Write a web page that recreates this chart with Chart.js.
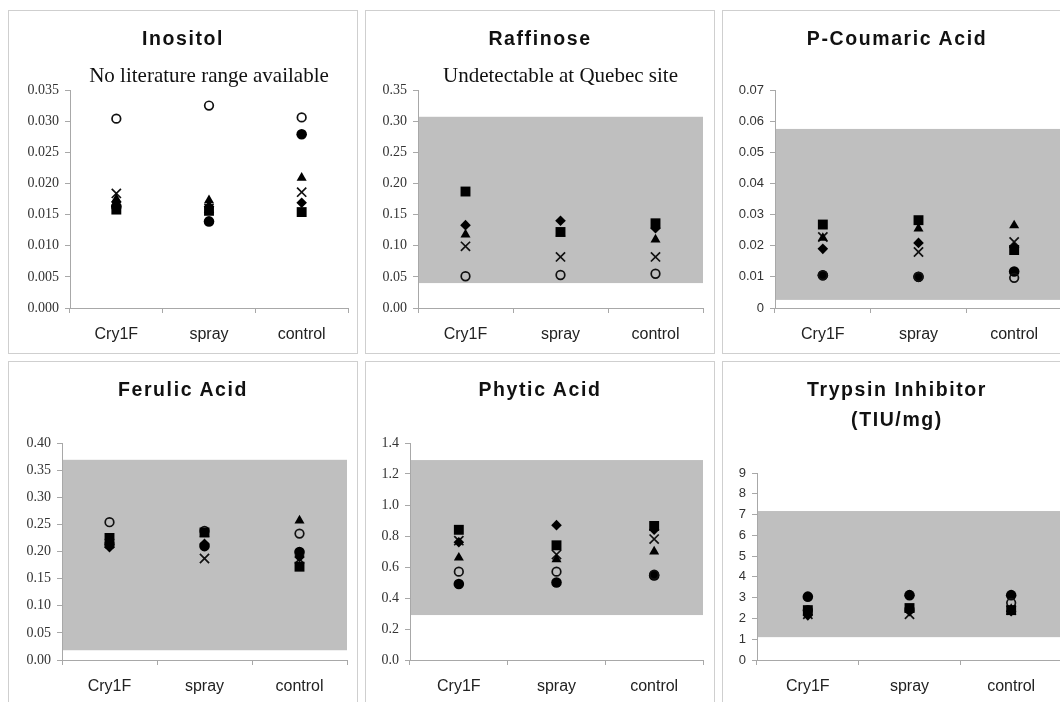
<!DOCTYPE html>
<html>
<head>
<meta charset="utf-8">
<script src="https://cdn.jsdelivr.net/npm/chart.js@4"></script>
<style>
body{margin:0;background:#fff;width:1060px;height:702px;overflow:hidden;position:relative}
.panel{position:absolute;width:350px;height:344px;border:1px solid #cfcfcf;box-sizing:border-box}
.panel canvas{position:absolute;left:0;top:0}
.title{position:absolute;left:0;right:0;top:12px;text-align:center;font:bold 19.5px "Liberation Sans",Arial,sans-serif;letter-spacing:1.6px;line-height:30px;color:#111}
.sub{position:absolute;top:52px;text-align:center;font:21px "Liberation Serif","Times New Roman",serif;line-height:24px;color:#111;white-space:nowrap}
</style>
</head>
<body>
<script>
const categories=["Cry1F","spray","control"];

// one row per marker: diamond, square, triangle, cross, open circle, filled circle
const markerNames=["diamond","square","triangle","cross","open circle","filled circle"];

const inositol=[
[0.0170,0.0163,0.0169],
[0.0158,0.0156,0.0154],
[0.0175,0.0173,0.0209],
[0.0184,0.0160,0.0186],
[0.0304,0.0325,0.0306],
[0.0163,0.0139,0.0279]
];

const raffinose=[
[0.133,0.140,0.128],
[0.187,0.122,0.136],
[0.118,0.120,0.110],
[0.099,0.082,0.082],
[0.051,0.053,0.055],
[null,null,null]
];

const coumaric=[
[0.0190,0.0209,0.0195],
[0.0268,0.0282,0.0186],
[0.0225,0.0255,0.0265],
[0.0228,0.0180,0.0212],
[0.0105,0.0100,0.0097],
[0.0105,0.0100,0.0117]
];

const ferulic=[
[0.208,0.214,0.190],
[0.225,0.235,0.172],
[0.220,0.232,0.257],
[0.215,0.187,0.186],
[0.254,0.238,0.233],
[0.213,0.210,0.199]
];

const phytic=[
[0.76,0.87,0.84],
[0.84,0.74,0.865],
[0.66,0.65,0.70],
[0.77,0.68,0.78],
[0.57,0.57,0.55],
[0.49,0.50,0.545]
];

const trypsin=[
[2.15,2.35,2.35],
[2.40,2.50,2.40],
[2.30,2.40,2.45],
[2.20,2.20,2.40],
[2.40,2.45,2.75],
[3.05,3.12,3.12]
];

// literature ranges (low, high)
const raffinoseRange=[0.040,0.307];
const coumaricRange=[0.0026,0.0575];
const ferulicRange=[0.018,0.369];
const phyticRange=[0.29,1.29];
const trypsinRange=[1.1,7.17];

// y axis: min, max, step
const inositolAxis=[0,0.035,0.005];
const raffinoseAxis=[0,0.35,0.05];
const coumaricAxis=[0,0.07,0.01];
const ferulicAxis=[0,0.40,0.05];
const phyticAxis=[0,1.4,0.2];
const trypsinAxis=[0,9,1];

const markers=[
{pointStyle:"rectRot",pointRadius:5.3,backgroundColor:"#000",borderColor:"#000",borderWidth:0},
{pointStyle:"rect",pointRadius:7,backgroundColor:"#000",borderColor:"#000",borderWidth:0},
{pointStyle:"triangle",pointRadius:5.8,backgroundColor:"#000",borderColor:"#000",borderWidth:0},
{pointStyle:"crossRot",pointRadius:6.5,backgroundColor:"#000",borderColor:"#111",borderWidth:1.7},
{pointStyle:"circle",pointRadius:4.3,backgroundColor:"rgba(0,0,0,0)",borderColor:"#111",borderWidth:1.7},
{pointStyle:"circle",pointRadius:5.3,backgroundColor:"#000",borderColor:"#000",borderWidth:0}
];

const serif="'Liberation Serif','Times New Roman',serif";
const sans="'Liberation Sans',Arial,sans-serif";

const panels=[
{left:8,top:10,title:"Inositol",sub:"No literature range available",values:inositol,range:null,axis:inositolAxis,
 box:[61,339,79,297],font:serif,size:14,fmt:v=>v.toFixed(3)},
{left:365,top:10,title:"Raffinose",sub:"Undetectable at Quebec site",values:raffinose,range:raffinoseRange,axis:raffinoseAxis,
 box:[52,337,79,297],font:serif,size:14,fmt:v=>v.toFixed(2)},
{left:722,top:10,title:"P-Coumaric Acid",sub:"",values:coumaric,range:coumaricRange,axis:coumaricAxis,
 box:[52,339,79,297],font:sans,size:13,fmt:v=>v===0?"0":v.toFixed(2)},
{left:8,top:361,title:"Ferulic Acid",sub:"",values:ferulic,range:ferulicRange,axis:ferulicAxis,
 box:[53,338,81,298],font:serif,size:14,fmt:v=>v.toFixed(2)},
{left:365,top:361,title:"Phytic Acid",sub:"",values:phytic,range:phyticRange,axis:phyticAxis,
 box:[44,337,81,298],font:serif,size:14,fmt:v=>v.toFixed(1)},
{left:722,top:361,title:"Trypsin Inhibitor<br>(TIU/mg)",sub:"",values:trypsin,range:trypsinRange,axis:trypsinAxis,
 box:[34,339,111,298],font:sans,size:13,fmt:v=>v.toFixed(0)}
];

const bandPlugin={
id:"band",
beforeDatasetsDraw(chart,args,opts){
if(!opts.range) return;
const {ctx,chartArea:a,scales:{y}}=chart;
const top=y.getPixelForValue(opts.range[1]);
const bottom=y.getPixelForValue(opts.range[0]);
ctx.save();
ctx.fillStyle="#bfbfbf";
ctx.fillRect(a.left+1,top,a.right-a.left-1,bottom-top);
ctx.restore();
}
};

const W=348,H=342;

panels.forEach(p=>{

const div=document.createElement("div");
div.className="panel";
div.style.left=p.left+"px";
div.style.top=p.top+"px";

const canvas=document.createElement("canvas");
canvas.width=W;
canvas.height=H;
div.appendChild(canvas);

const t=document.createElement("div");
t.className="title";
t.innerHTML=p.title;
div.appendChild(t);

if(p.sub){
const s=document.createElement("div");
s.className="sub";
s.style.left=p.box[0]+"px";
s.style.width=(p.box[1]-p.box[0])+"px";
s.textContent=p.sub;
div.appendChild(s);
}

document.body.appendChild(div);

const [L,R,T,B]=p.box;

new Chart(canvas.getContext("2d"),{

type:"line",

data:{
labels:categories,
datasets:p.values.map((row,i)=>Object.assign({
label:markerNames[i],
data:row,
showLine:false
},markers[i]))
},

options:{
responsive:false,
animation:false,
devicePixelRatio:1,
layout:{padding:{left:0,top:T,right:W-R,bottom:0}},
plugins:{
legend:{display:false},
tooltip:{enabled:false},
band:{range:p.range}
},
scales:{
x:{
offset:true,
grid:{offset:true,drawOnChartArea:false,tickLength:5,color:"#a8a8a8"},
border:{color:"#a8a8a8"},
ticks:{font:{family:sans,size:16},color:"#222",padding:12},
afterFit:s=>{s.height=H-B;}
},
y:{
min:p.axis[0],
max:p.axis[1],
grid:{drawOnChartArea:false,tickLength:5,color:"#a8a8a8"},
border:{color:"#a8a8a8"},
ticks:{stepSize:p.axis[2],font:{family:p.font,size:p.size},color:"#333",padding:6,callback:p.fmt},
afterFit:s=>{s.width=L;}
}
}
},

plugins:[bandPlugin]

});

});
</script>
</body>
</html>
